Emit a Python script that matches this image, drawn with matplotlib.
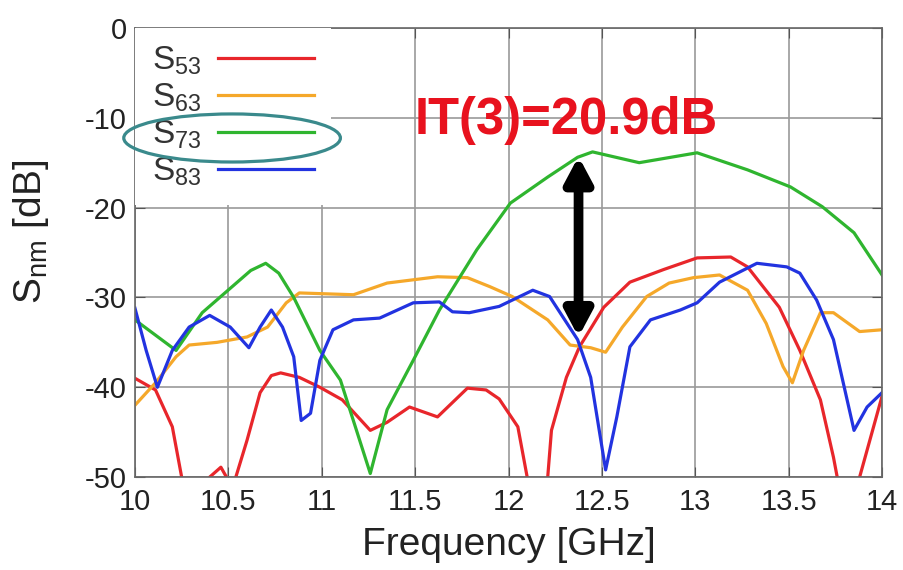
import matplotlib
matplotlib.use("Agg")
import matplotlib.pyplot as plt
from matplotlib.patches import Ellipse
from matplotlib.ticker import FuncFormatter

plt.rcParams["font.family"] = ["Liberation Sans", "DejaVu Sans"]
plt.rcParams["mathtext.fontset"] = "custom"
plt.rcParams["mathtext.rm"] = "Liberation Sans"
plt.rcParams["mathtext.it"] = "Liberation Sans"
plt.rcParams["axes.unicode_minus"] = False

# ── Data (GHz, dB) ────────────────────────────────────────────────────────────
f_s53 = [10.00, 10.11, 10.20, 10.25, 10.32, 10.40, 10.46, 10.49, 10.515, 10.54,
         10.60, 10.67, 10.73, 10.78, 10.88, 10.99, 11.11, 11.26, 11.35, 11.47,
         11.62, 11.78, 11.88, 11.95, 12.05, 12.10, 12.155, 12.21, 12.23, 12.31,
         12.38, 12.51, 12.65, 12.83, 13.01, 13.19, 13.28, 13.45, 13.56, 13.67,
         13.74, 13.76, 13.82, 13.88, 14.00]
s53 = [-39.0, -40.3, -44.4, -50.0, -56.0, -50.0, -48.9, -50.0, -52.0, -50.0,
       -45.9, -40.6, -38.7, -38.4, -38.9, -40.0, -41.4, -44.8, -43.9, -42.2,
       -43.3, -40.1, -40.3, -41.3, -44.4, -50.0, -57.0, -50.0, -44.8, -38.9,
       -35.5, -31.1, -28.3, -26.9, -25.6, -25.5, -26.6, -31.1, -35.9, -41.4,
       -47.8, -50.0, -56.0, -50.0, -41.0]

f_s63 = [10.00, 10.11, 10.22, 10.29, 10.44, 10.60, 10.71, 10.81, 10.88, 11.17,
         11.35, 11.62, 11.78, 11.90, 12.02, 12.21, 12.33, 12.44, 12.52, 12.61,
         12.74, 12.86, 12.99, 13.13, 13.28, 13.38, 13.47, 13.52, 13.58, 13.67,
         13.74, 13.88, 14.00]
s63 = [-42.0, -39.5, -36.6, -35.3, -35.0, -34.4, -33.3, -30.6, -29.5, -29.7,
       -28.4, -27.7, -27.8, -28.8, -29.9, -32.5, -35.3, -35.6, -36.1, -33.3,
       -29.9, -28.4, -27.8, -27.5, -29.2, -32.9, -37.7, -39.5, -35.9, -31.7,
       -31.7, -33.8, -33.6]

f_s73 = [10.00, 10.22, 10.36, 10.62, 10.70, 10.77, 10.85, 10.99, 11.10, 11.26,
         11.35, 11.49, 11.63, 11.83, 12.01, 12.21, 12.37, 12.45, 12.70, 13.01,
         13.28, 13.51, 13.68, 13.85, 14.00]
s73 = [-32.5, -35.9, -31.7, -27.0, -26.2, -27.3, -30.0, -35.9, -39.2, -49.6,
       -42.5, -37.0, -31.4, -24.7, -19.5, -16.6, -14.4, -13.8, -15.0, -13.9,
       -15.8, -17.7, -19.9, -22.8, -27.5]

f_s83 = [10.00, 10.06, 10.12, 10.20, 10.29, 10.40, 10.51, 10.61, 10.67, 10.73,
         10.79, 10.85, 10.89, 10.94, 10.99, 11.06, 11.17, 11.31, 11.49, 11.63,
         11.70, 11.79, 11.95, 12.13, 12.22, 12.37, 12.44, 12.52, 12.58, 12.65,
         12.76, 12.92, 13.01, 13.13, 13.33, 13.49, 13.56, 13.65, 13.74, 13.85,
         13.92, 14.00]
s83 = [-31.2, -35.9, -40.0, -35.9, -33.3, -32.0, -33.3, -35.6, -33.3, -31.4,
       -33.3, -36.6, -43.7, -42.9, -37.0, -33.6, -32.5, -32.3, -30.6, -30.5,
       -31.6, -31.7, -31.0, -29.2, -29.9, -34.7, -38.9, -49.2, -43.3, -35.5,
       -32.5, -31.4, -30.6, -28.3, -26.2, -26.6, -27.3, -30.3, -34.7, -44.8,
       -42.2, -40.6]

x_ticks = [10, 10.5, 11, 11.5, 12, 12.5, 13, 13.5, 14]
y_ticks = [0, -10, -20, -30, -40, -50]

it3_label = "IT(3)=20.9dB"
it3_top = -14.3      # peak of S73
it3_bottom = -34.4   # crossing of the lower curves
it3_freq = 12.375

# ── Figure ────────────────────────────────────────────────────────────────────
fig = plt.figure(figsize=(9.04, 5.70), dpi=100)
ax = fig.add_axes([0.1493, 0.163, 0.8264, 0.788])

series = [
    (f_s53, s53, "#e8262b", r"$\mathregular{S_{53}}$"),
    (f_s63, s63, "#f5a82a", r"$\mathregular{S_{63}}$"),
    (f_s73, s73, "#2fb52f", r"$\mathregular{S_{73}}$"),
    (f_s83, s83, "#2233e0", r"$\mathregular{S_{83}}$"),
]
for f, s, c, lab in series:
    ax.plot(f, s, color=c, lw=2.3, label=lab, solid_joinstyle="round")

ax.set_xlim(10, 14)
ax.set_ylim(-50, 0)
ax.set_xticks(x_ticks)
ax.set_yticks(y_ticks)
ax.xaxis.set_major_formatter(FuncFormatter(lambda v, p: f"{v:g}"))
ax.grid(True, color="#9a9a9a", lw=1.2)
ax.set_axisbelow(True)
ax.tick_params(direction="in", length=7, top=True, right=True,
               labelsize=21, colors="#555555", labelcolor="#222222")
ax.tick_params(axis="x", pad=8)
ax.tick_params(axis="y", pad=6)
for sp in ax.spines.values():
    sp.set_color("#666666")
    sp.set_linewidth(1.2)

ax.set_xlabel("Frequency [GHz]", fontsize=28, color="#222222", labelpad=8)
ax.set_ylabel(r"$\mathregular{S_{nm}}$ [dB]", fontsize=28, color="#222222")
ax.yaxis.set_label_coords(-0.112, 0.545)

leg = ax.legend(loc="upper left", bbox_to_anchor=(0.0, 1.0), fontsize=24,
                markerfirst=False, frameon=True, fancybox=False,
                handlelength=2.9, handletextpad=0.5, labelspacing=0.14,
                borderpad=0.5, borderaxespad=0.0)
leg.get_frame().set_facecolor("white")
leg.get_frame().set_edgecolor("none")
leg.get_frame().set_alpha(1.0)
for t in leg.get_texts():
    t.set_color("#333333")

# highlight ellipse around the S73 legend entry
ax.add_patch(Ellipse((10.52, -12.25), 1.16, 5.35, fill=False,
                     edgecolor="#3a8a8c", lw=2.3, clip_on=False, zorder=10))

# IT(3) arrow and label
ax.annotate("", xy=(it3_freq, it3_top), xytext=(it3_freq, it3_bottom),
            arrowprops=dict(arrowstyle="<|-|>,head_length=0.75,head_width=0.4",
                            mutation_scale=20, color="black", lw=7,
                            shrinkA=0, shrinkB=0),
            zorder=11)
ax.text(11.5, -10.3, it3_label, color="#e8121e", fontsize=36.5,
        fontweight="bold", ha="left", va="center", zorder=11)

fig.savefig("out.png", dpi=100)
